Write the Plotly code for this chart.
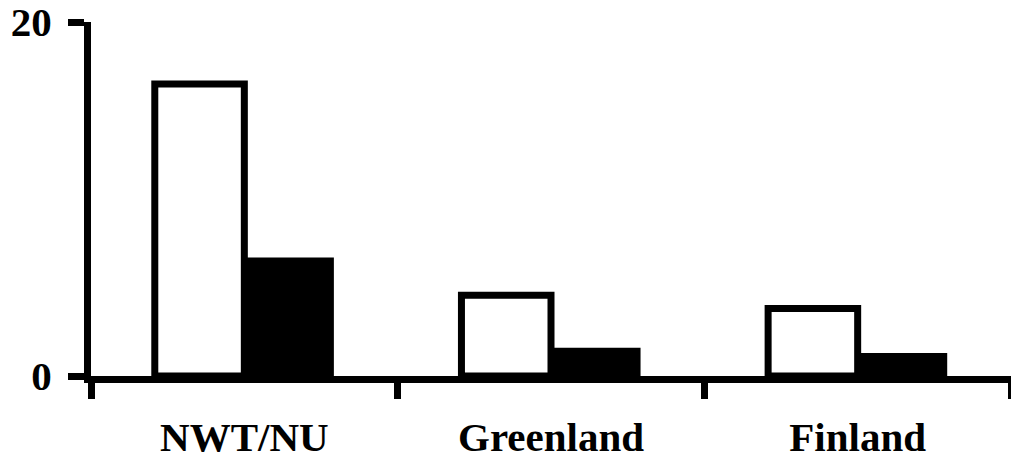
import plotly.graph_objects as go

categories = ["NWT/NU", "Greenland", "Finland"]
series_open = [16.5, 4.56, 3.82]
series_filled = [6.69, 1.59, 1.30]
y_tick_vals = [0, 20]
y_tick_text = ["0", "20"]

font_family = "Liberation Serif"

fig = go.Figure()
fig.add_trace(go.Bar(
    x=categories, y=series_open,
    marker=dict(color="white", line=dict(color="black", width=7)),
    showlegend=False,
))
fig.add_trace(go.Bar(
    x=categories, y=series_filled,
    marker=dict(color="black", line=dict(color="black", width=0)),
    showlegend=False,
))

fig.update_layout(
    template="none",
    width=1011, height=462,
    margin=dict(l=91, r=0, t=22, b=86, autoexpand=False),
    paper_bgcolor="white", plot_bgcolor="white",
    barmode="group", bargap=0.416, bargroupgap=0,
    font=dict(family=font_family, size=41, color="black"),
)
fig.update_xaxes(
    type="category", range=[-0.5, 2.5], automargin=False,
    showline=True, linecolor="black", linewidth=7,
    ticks="outside", tickson="boundaries", ticklen=16, tickwidth=7, tickcolor="black",
    showgrid=False, zeroline=False,
    tickfont=dict(family=font_family, size=41, color="black", weight="bold"),
    ticklabelstandoff=19, ticklabeloverflow="allow",
)
fig.update_yaxes(
    range=[0, 20], tickvals=y_tick_vals, ticktext=y_tick_text, automargin=False,
    showline=True, linecolor="black", linewidth=7,
    ticks="outside", ticklen=16, tickwidth=7, tickcolor="black",
    showgrid=False, zeroline=False,
    tickfont=dict(family=font_family, size=41, color="black", weight="bold"),
    ticklabelstandoff=8, ticklabeloverflow="allow",
)

fig.write_html(
    "out.html",
    config={"displayModeBar": False},
    post_script="document.body.style.margin='0';",
)
